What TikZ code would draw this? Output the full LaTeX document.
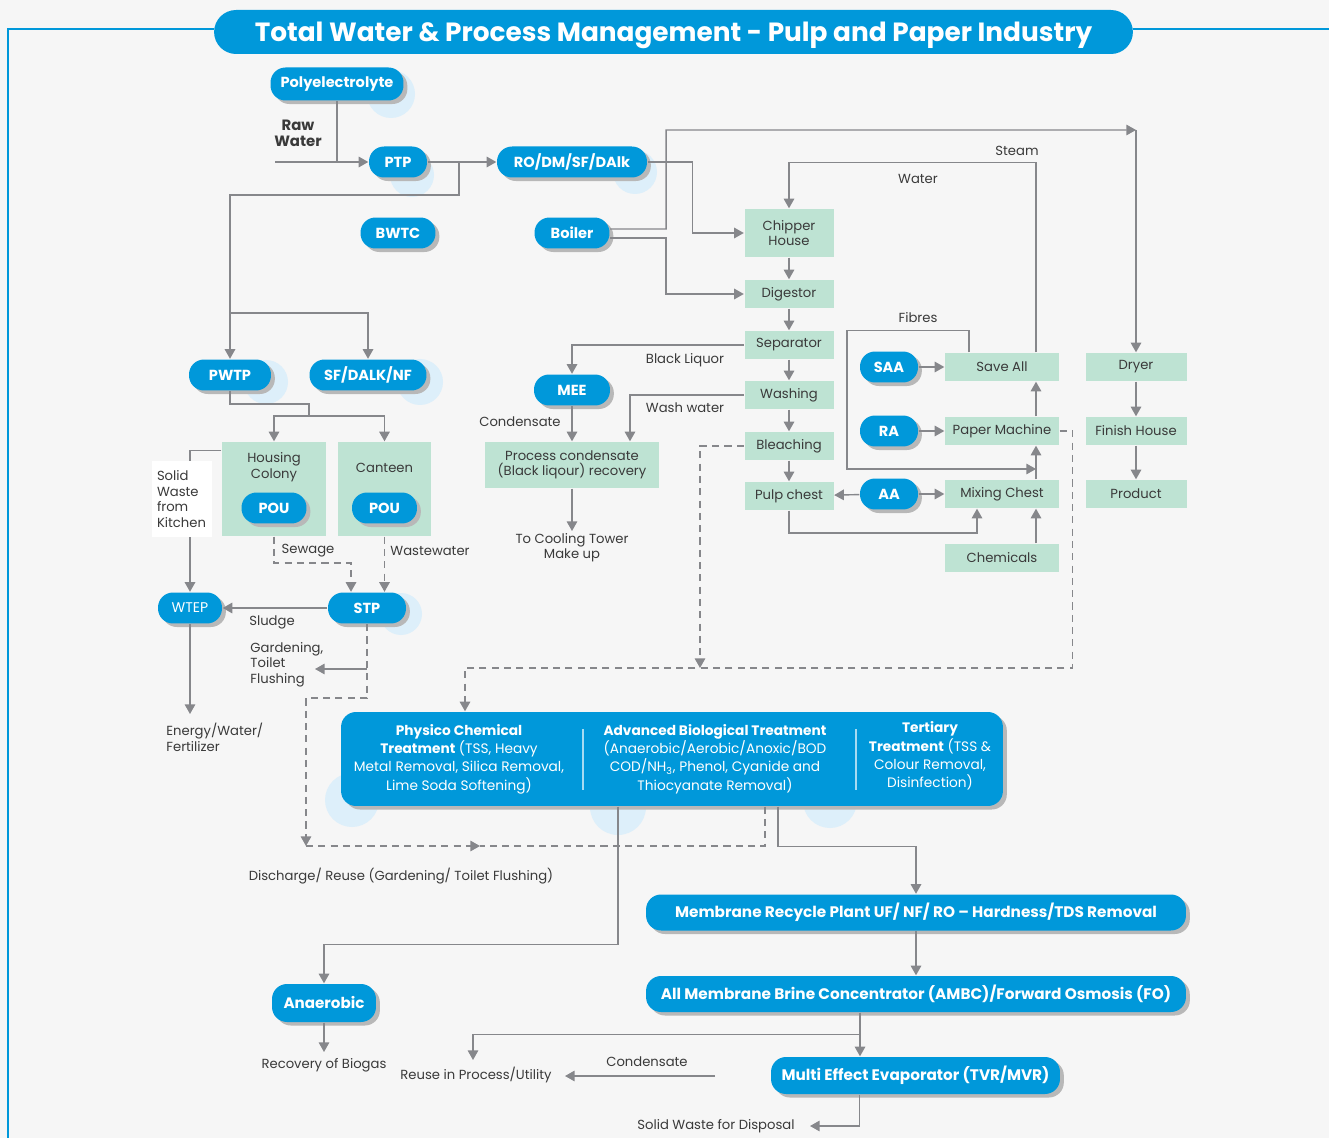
\documentclass[tikz,border=0pt]{standalone}
\usepackage{fontspec}
\setmainfont{Poppins}
\usetikzlibrary{arrows.meta,shadows}
\definecolor{bleu}{HTML}{0098DA}
\definecolor{vertpale}{HTML}{BEE3D3}
\definecolor{gris}{HTML}{86878B}
\definecolor{texte}{HTML}{3A3A3A}
\definecolor{halo}{HTML}{DDEFFA}
\definecolor{fond}{HTML}{F6F6F6}

\begin{document}
\begin{tikzpicture}[x=0.02cm, y=-0.02cm, >={Triangle[length=5.5pt,width=6pt]},
    line width=0.8pt, font=\fontsize{7.5}{8.8}\selectfont,
    pill/.style={fill=bleu, text=white, rounded corners=0.3cm, minimum height=0.62cm,
        inner sep=1pt, font=\fontsize{8.3}{9}\selectfont\bfseries,
        general shadow={fill=black!28, shadow xshift=2.2pt, shadow yshift=-2pt}},
    boite/.style={fill=vertpale, text=texte, minimum height=0.56cm, inner sep=1pt, align=center},
    lbl/.style={text=texte, align=center, inner sep=1pt},
    fl/.style={draw=gris, ->},
    pt/.style={draw=gris, dash pattern=on 4pt off 3pt}]
    \useasboundingbox (0,0) rectangle (1329,1138);
    \fill[fond] (0,0) rectangle (1329,1138);

    % cadre
    \draw[bleu, line width=1.2pt] (214,29) -- (8,29) -- (8,1140);
    \draw[bleu, line width=1.2pt] (1133,29) -- (1329,29);

    % halos derriere les pastilles
    \foreach \x/\y/\r in {391/94/24, 412/175/22, 635/172/22, 266/382/22, 420/382/23,
        401/614/21, 352/800/27, 618/807/28, 830/801/27}
        \fill[halo] (\x,\y) circle (\r);

    % titre
    \node[fill=bleu, text=white, rounded corners=0.44cm, minimum width=18.38cm, minimum height=0.88cm,
        text depth=0pt, font=\fontsize{15}{17}\selectfont\bfseries] (titre) at (673.5,32)
        {Total Water \& Process Management - Pulp and Paper Industry};

    % eau brute
    \node[pill, minimum width=2.66cm, minimum height=0.66cm] (poly) at (337,84) {Polyelectrolyte};
    \node[pill, minimum width=1.16cm] (ptp) at (398,162) {PTP};
    \node[pill, minimum width=1.5cm] (bwtc) at (398,233) {BWTC};
    \node[pill, minimum width=3cm] (ro) at (572,162) {RO/DM/SF/DAlk};
    \node[pill, minimum width=1.5cm] (boiler) at (572,233) {Boiler};
    \node[lbl, font=\fontsize{8.5}{9.2}\selectfont\bfseries] (raw) at (298,133) {Raw\\Water};
    \coordinate (rawin) at (275,162);

    % chaine papetiere
    \node[boite, minimum width=1.78cm, minimum height=0.96cm] (chipper) at (789,233) {Chipper\\House};
    \node[boite, minimum width=1.78cm] (digestor) at (789,294) {Digestor};
    \node[boite, minimum width=1.78cm] (separator) at (789,345) {Separator};
    \node[boite, minimum width=1.78cm] (washing) at (789,395) {Washing};
    \node[boite, minimum width=1.78cm] (bleaching) at (789,446) {Bleaching};
    \node[boite, minimum width=1.78cm] (pulpchest) at (789,496) {Pulp chest};

    \node[pill, minimum width=1.52cm] (mee) at (572,390) {MEE};
    \node[boite, minimum width=3.5cm, minimum height=0.92cm] (procond) at (572,465)
        {Process condensate\\(Black liqour) recovery};
    \node[lbl, anchor=north] (cooling) at (572,531) {To Cooling Tower\\Make up};

    \node[boite, minimum width=2.28cm] (saveall) at (1002,367) {Save All};
    \node[boite, minimum width=2.28cm] (papermachine) at (1002,431) {Paper Machine};
    \node[boite, minimum width=2.28cm] (mixing) at (1002,494) {Mixing Chest};
    \node[boite, minimum width=2.28cm] (chemicals) at (1002,558) {Chemicals};
    \node[pill, minimum width=1.16cm] (saa) at (889,367) {SAA};
    \node[pill, minimum width=1.16cm] (ra) at (889,431) {RA};
    \node[pill, minimum width=1.16cm] (aa) at (889,494) {AA};
    \node[boite, minimum width=2.02cm] (dryer) at (1136,367) {Dryer};
    \node[boite, minimum width=2.02cm] (finish) at (1136,431) {Finish House};
    \node[boite, minimum width=2.02cm] (product) at (1136,494) {Product};

    % cote gauche
    \node[pill, minimum width=1.64cm] (pwtp) at (230,375) {PWTP};
    \node[pill, minimum width=2.34cm] (sfdalk) at (368,375) {SF/DALK/NF};
    \node[boite, minimum width=2.08cm, minimum height=1.88cm] (housing) at (274,489) {};
    \node[lbl] (housingtxt) at (274,467) {Housing\\Colony};
    \node[pill, minimum width=1.3cm] (pou1) at (274,508) {POU};
    \node[boite, minimum width=1.86cm, minimum height=1.88cm] (canteen) at (384.5,489) {};
    \node[lbl] (canteentxt) at (384.5,468) {Canteen};
    \node[pill, minimum width=1.3cm] (pou2) at (384.5,508) {POU};
    \node[pill, minimum width=1.28cm, font=\fontsize{8}{9}\selectfont] (wtep) at (190,608) {WTEP};
    \node[pill, minimum width=1.56cm] (stp) at (367,608) {STP};

    % traitement des effluents
    \node[pill, minimum width=13.24cm, minimum height=1.88cm] (bigbox) at (672,759) {};
    \node[text=white, align=center, font=\fontsize{7.8}{10.4}\selectfont] (col1) at (459,759)
        {\textbf{Physico Chemical}\\\textbf{Treatment} (TSS, Heavy\\Metal Removal, Silica Removal,\\Lime Soda Softening)};
    \node[text=white, align=center, font=\fontsize{7.8}{10.4}\selectfont] (col2) at (715,759)
        {\textbf{Advanced Biological Treatment}\\(Anaerobic/Aerobic/Anoxic/BOD\\COD/NH\textsubscript{3}, Phenol, Cyanide and\\Thiocyanate Removal)};
    \node[text=white, align=center, font=\fontsize{7.8}{10.4}\selectfont] (col3) at (930,756)
        {\textbf{Tertiary}\\\textbf{Treatment} (TSS \&\\Colour Removal,\\Disinfection)};
    \draw[white!65!bleu, line width=0.6pt] (583,729) -- (583,790);
    \draw[white!65!bleu, line width=0.6pt] (856,729) -- (856,790);

    \node[pill, minimum width=10.8cm, minimum height=0.72cm, font=\fontsize{8.7}{9}\selectfont\bfseries] (membrane) at (916,912.5)
        {Membrane Recycle Plant UF/ NF/ RO -- Hardness/TDS Removal};
    \node[pill, minimum width=10.8cm, minimum height=0.72cm, font=\fontsize{8.7}{9}\selectfont\bfseries] (ambc) at (916,994)
        {All Membrane Brine Concentrator (AMBC)/Forward Osmosis (FO)};
    \node[pill, minimum width=5.78cm, minimum height=0.74cm, font=\fontsize{8.7}{9}\selectfont\bfseries] (evap) at (915.5,1075.5)
        {Multi Effect Evaporator (TVR/MVR)};
    \node[pill, minimum width=2.08cm, minimum height=0.76cm, font=\fontsize{8.6}{9}\selectfont\bfseries] (anaerobic) at (324,1003) {Anaerobic};

    % etiquettes
    \node[lbl] (steamtxt) at (1017,151) {Steam};
    \node[lbl] (watertxt) at (918,179) {Water};
    \node[lbl] (fibrestxt) at (918,318) {Fibres};
    \node[lbl] (liquortxt) at (685,360) {Black Liquor};
    \node[lbl] (washtxt) at (685,408) {Wash water};
    \node[lbl] (condtxt) at (520,422) {Condensate};
    \node[lbl] (sewagetxt) at (308,551) {Sewage};
    \node[lbl] (wastetxt) at (430,551) {Wastewater};
    \node[lbl] (sludgetxt) at (272,622) {Sludge};
    \node[lbl, anchor=north west, align=left] (gardtxt) at (248,640) {Gardening,\\Toilet\\Flushing};
    \node[lbl, anchor=north west, align=left] (energytxt) at (164,721) {Energy/Water/\\Fertilizer};
    \node[lbl] (dischargetxt) at (401,876) {Discharge/ Reuse (Gardening/ Toilet Flushing)};
    \node[lbl] (biogas) at (324,1065) {Recovery of Biogas};
    \node[lbl] (reuse) at (476,1075) {Reuse in Process/Utility};
    \node[lbl] (cond2txt) at (647,1062) {Condensate};
    \node[lbl] (solidwaste) at (716,1126) {Solid Waste for Disposal};

    % eau brute vers les usages
    \draw[fl] (rawin) -- (ptp);
    \draw[gris] (poly) -- (poly |- ptp.west);
    \draw[fl] (ptp) -- (ro);
    \coordinate (j1) at (459,162);
    \coordinate (j2) at (230,313);
    \draw[fl] (j1) |- (230,195) -- (pwtp);
    \draw[fl] (j2) -| (sfdalk);

    % vapeur et eau
    \coordinate (steam) at (1136,130);
    \draw[fl] (ro.east) -- ++(45,0) |- (chipper);
    \draw[fl] ([yshift=0.08cm]boiler.east) -- ++(56,0) -- ++(0,-99) -- (steam);
    \draw[fl] (steam) -- (dryer);
    \draw[fl] ([yshift=-0.1cm]boiler.east) -- ++(56,0) |- (digestor);
    \draw[fl] ([xshift=0.68cm]saveall.north) -- ++(0,-190) -| (chipper);

    % chaine
    \foreach \a/\b in {chipper/digestor, digestor/separator, separator/washing,
        washing/bleaching, bleaching/pulpchest}
        \draw[fl] (\a) -- (\b);
    \draw[fl] (separator) -| (mee);
    \draw[fl] (mee) -- (procond);
    \draw[fl] (washing) -| ([xshift=1.16cm]procond.north);
    \draw[fl] (procond) -- (cooling);

    % papeterie
    \draw[fl] (saa) -- (saveall);
    \draw[fl] (ra) -- (papermachine);
    \draw[fl] (aa) -- (mixing);
    \draw[fl] (aa) -- (pulpchest);
    \draw[fl] ([xshift=0.68cm]mixing.north) -- ([xshift=0.68cm]papermachine.south);
    \draw[fl] ([xshift=0.68cm]papermachine.north) -- ([xshift=0.68cm]saveall.south);
    \draw[fl] ([xshift=0.68cm]chemicals.north) -- ([xshift=0.68cm]mixing.south);
    \draw[fl] (pulpchest) -- ++(0,37) -| ([xshift=-0.5cm]mixing.south);
    \coordinate (fibre) at (1036,469);
    \draw[fl] ([xshift=-0.66cm]saveall.north) -- ++(0,-22) -| (847,469) -- (fibre);
    \draw[fl] (dryer) -- (finish);
    \draw[fl] (finish) -- (product);

    % pointilles vers le traitement
    \coordinate (bj) at (700,668);
    \coordinate (inlet) at (465,668);
    \draw[pt, ->] (bleaching) -| (bj);
    \draw[pt, ->] (papermachine.east) -- ++(13,0) |- (inlet) -- (inlet |- bigbox.north);

    % cote gauche
    \coordinate (split) at (309,416);
    \draw[gris] (pwtp) -- ++(0,29) -| (split);
    \draw[fl] (split) -| (housing);
    \draw[fl] (split) -| (canteen);
    \draw[fl] ([yshift=-0.18cm]housing.north west) -| (wtep);
    \node[lbl, fill=white, align=left, text width=1.0cm, minimum height=1.54cm, inner sep=0.1cm] (solid) at (182,499)
        {Solid\\Waste\\from\\Kitchen};
    \draw[pt, ->] (housing) -- ++(0,74) -| ([xshift=-0.32cm]stp.north);
    \draw[pt, ->] (canteen) -- (canteen |- stp.north);
    \draw[fl] (stp) -- (wtep);
    \coordinate (energyin) at (190,714);
    \draw[fl] (wtep) -- (energyin);
    \coordinate (dis) at (306,846);
    \coordinate (disarrow) at (480,846);
    \draw[pt, ->] (stp) -- ++(0,90) -| (dis);
    \draw[pt, ->] (dis) -- (disarrow);
    \draw[pt] ([xshift=1.86cm]bigbox.south) |- (disarrow);
    \coordinate (gard) at (315,669);
    \draw[fl] (stp.south |- gard) -- (gard);

    % aval du traitement
    \draw[fl] ([xshift=-1.08cm]bigbox.south) -- ++(0,138) -| (anaerobic);
    \draw[fl] ([xshift=2.12cm]bigbox.south) -- ++(0,40) -| (membrane);
    \draw[fl] (membrane) -- (ambc);
    \draw[fl] ([xshift=-1.12cm]ambc.south) -- ([xshift=-1.12cm]ambc.south |- evap.north);
    \coordinate (reusein) at (473,1060);
    \draw[fl] ([xshift=-1.12cm]ambc.south) -- ++(0,22) -| (reusein);
    \coordinate (condin) at (715,1076);
    \coordinate (condout) at (565,1076);
    \draw[fl] (condin) -- (condout);
    \coordinate (swout) at (810,1126);
    \draw[fl] ([xshift=-1.12cm]evap.south) |- (swout);
    \coordinate (biogasin) at (324,1052);
    \draw[fl] (anaerobic) -- (biogasin);
\end{tikzpicture}
\end{document}
